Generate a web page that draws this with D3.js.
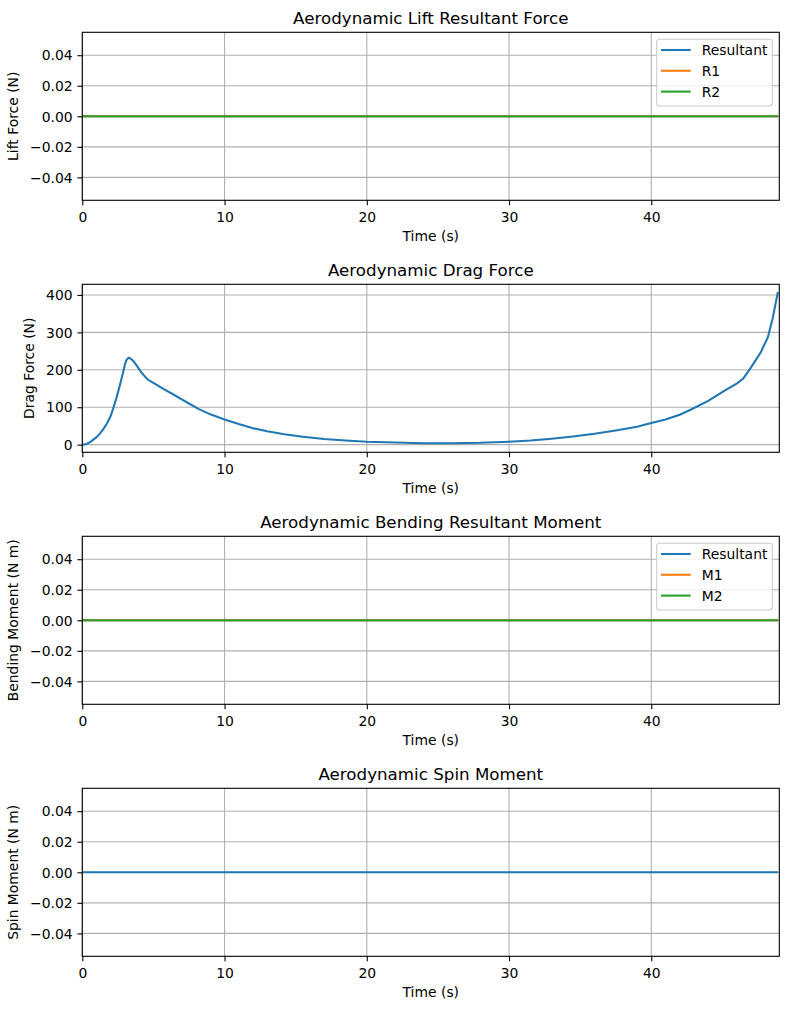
<!DOCTYPE html>
<html>
<head>
<meta charset="utf-8">
<script src="https://cdn.jsdelivr.net/npm/d3@7"></script>
<style>
  body { margin: 0; background: #fff; }
  svg { display: block; font-family: "DejaVu Sans", sans-serif; }
</style>
</head>
<body>
<script>
// time axis
var timeTicks = [0, 10, 20, 30, 40];
var timeMax = 49.0;

// drag force
var dragTime = [0, 0.3, 0.6, 1.0, 1.25, 1.5, 1.75, 2.0, 2.2, 2.4, 2.65, 2.85, 3.0, 3.1, 3.25, 3.4, 3.6, 3.85, 4.1, 4.4, 4.6, 5.0, 5.7, 6.5, 6.9, 7.5, 8.2, 9.0, 10.0, 11.0, 12.0, 13.0, 14.2, 15.5, 17.0, 18.5, 20.0, 22.0, 24.0, 26.0, 28.0, 30.0, 31.5, 33.0, 34.5, 36.0, 37.5, 39.0, 40.0, 41.0, 42.0, 42.8, 44.0, 45.1, 46.0, 46.45, 47.0, 47.7, 48.2, 48.55, 48.9];
var dragForce = [0, 2, 8, 20, 30, 43, 58, 77, 100, 125, 160, 190, 215, 226, 232, 230, 223, 210, 196, 182, 174, 165, 149, 132, 123, 110, 95, 81, 67, 55, 44, 36, 28, 21, 15, 11, 8, 6, 4, 4, 5, 8, 11, 16, 22, 29, 38, 48, 58, 67, 80, 94, 117, 143, 163, 176, 206, 247, 287, 340, 408];
var dragTicks = [0, 100, 200, 300, 400];

// the other components are flat at zero
var flatTime = [0, 10, 20, 30, 40, 48.9];
var liftResultant = [0, 0, 0, 0, 0, 0];
var liftR1 = [0, 0, 0, 0, 0, 0];
var liftR2 = [0, 0, 0, 0, 0, 0];
var bendResultant = [0, 0, 0, 0, 0, 0];
var bendM1 = [0, 0, 0, 0, 0, 0];
var bendM2 = [0, 0, 0, 0, 0, 0];
var spinMoment = [0, 0, 0, 0, 0, 0];
var flatTicks = [-0.04, -0.02, 0, 0.02, 0.04];

var colors = ['#1f77b4', '#ff7f0e', '#2ca02c'];

var width = 789,
    height = 1009,
    left = 82.3,
    plotW = 697,
    plotH = 168;

var svg = d3.select('body').append('svg')
    .attr('width', width)
    .attr('height', height);

var panels = [
  {top: 32.3, title: 'Aerodynamic Lift Resultant Force', ylabel: 'Lift Force (N)',
   series: [{t: flatTime, v: liftResultant, name: 'Resultant'}, {t: flatTime, v: liftR1, name: 'R1'}, {t: flatTime, v: liftR2, name: 'R2'}],
   ticks: flatTicks, fmt: '.2f', legend: true},
  {top: 284.3, title: 'Aerodynamic Drag Force', ylabel: 'Drag Force (N)',
   series: [{t: dragTime, v: dragForce}], ticks: dragTicks, fmt: 'd', legend: false},
  {top: 536.3, title: 'Aerodynamic Bending Resultant Moment', ylabel: 'Bending Moment (N m)',
   series: [{t: flatTime, v: bendResultant, name: 'Resultant'}, {t: flatTime, v: bendM1, name: 'M1'}, {t: flatTime, v: bendM2, name: 'M2'}],
   ticks: flatTicks, fmt: '.2f', legend: true},
  {top: 788.3, title: 'Aerodynamic Spin Moment', ylabel: 'Spin Moment (N m)',
   series: [{t: flatTime, v: spinMoment}], ticks: flatTicks, fmt: '.2f', legend: false}
];

var xScale = d3.scaleLinear().domain([0, timeMax]).range([0, plotW]);

panels.forEach(function(p) {
  var g = svg.append('g').attr('transform', `translate(${left}, ${p.top})`);

  // y domain like matplotlib autoscale (5% margins, flat -> +/-0.055)
  var all = d3.merge(p.series.map(s => s.v));
  var lo = d3.min(all), hi = d3.max(all);
  var domain;
  if (hi - lo === 0) domain = [lo - 0.055, hi + 0.055];
  else domain = [lo - 0.05 * (hi - lo), hi + 0.05 * (hi - lo)];
  var yScale = d3.scaleLinear().domain(domain).range([plotH, 0]);

  // grid
  g.append('g').selectAll('line').data(timeTicks).join('line')
      .attr('x1', d => xScale(d)).attr('x2', d => xScale(d))
      .attr('y1', 0).attr('y2', plotH)
      .attr('stroke', '#b0b0b0').attr('stroke-width', 1.1);
  g.append('g').selectAll('line').data(p.ticks).join('line')
      .attr('x1', 0).attr('x2', plotW)
      .attr('y1', d => yScale(d)).attr('y2', d => yScale(d))
      .attr('stroke', '#b0b0b0').attr('stroke-width', 1.1);

  // lines
  var clip = 'clip' + Math.round(p.top);
  g.append('clipPath').attr('id', clip).append('rect')
      .attr('width', plotW).attr('height', plotH);
  p.series.forEach(function(s, i) {
    var line = d3.line()
        .x((d, j) => xScale(s.t[j]))
        .y(d => yScale(d));
    g.append('path')
        .attr('d', line(s.v))
        .attr('fill', 'none')
        .attr('stroke', colors[i])
        .attr('stroke-width', 2.08)
        .attr('clip-path', `url(#${clip})`);
  });

  // axes
  var xAxis = g.append('g')
      .attr('transform', `translate(0, ${plotH})`)
      .call(d3.axisBottom(xScale).tickValues(timeTicks).tickSize(4.86).tickPadding(4.86));
  xAxis.selectAll('text').attr('y', 21.5).attr('dy', null);

  var yAxis = g.append('g')
      .call(d3.axisLeft(yScale).tickValues(p.ticks).tickFormat(d3.format(p.fmt)).tickSize(4.86).tickPadding(4.86));
  yAxis.selectAll('text').attr('dy', '0.34em');

  [xAxis, yAxis].forEach(function(a) {
    a.select('.domain').remove();
    a.attr('font-size', 13.9).attr('font-family', '"DejaVu Sans", sans-serif');
    a.selectAll('line').attr('stroke', '#000').attr('stroke-width', 1.1);
    a.selectAll('text').attr('fill', '#000');
  });

  // spines
  g.append('rect')
      .attr('width', plotW).attr('height', plotH)
      .attr('fill', 'none').attr('stroke', '#000').attr('stroke-width', 1.1);

  // title and labels
  g.append('text')
      .attr('x', plotW / 2).attr('y', -8)
      .attr('text-anchor', 'middle')
      .attr('font-size', 16.7)
      .text(p.title);

  g.append('text')
      .attr('x', plotW / 2).attr('y', plotH + 40.7)
      .attr('text-anchor', 'middle')
      .attr('font-size', 13.9)
      .text('Time (s)');

  var tickW = d3.max(yAxis.selectAll('text').nodes(), n => n.getComputedTextLength());
  var lx = -9.7 - tickW - 12.5;
  g.append('text')
      .attr('transform', `translate(${lx}, ${plotH / 2}) rotate(-90)`)
      .attr('text-anchor', 'middle')
      .attr('font-size', 13.9)
      .text(p.ylabel);

  // legend
  if (p.legend) {
    var lg = g.append('g').attr('transform', `translate(${plotW - 122.6}, 7)`);
    lg.append('rect')
        .attr('width', 115.6).attr('height', 66.7)
        .attr('rx', 3).attr('ry', 3)
        .attr('fill', 'rgba(255,255,255,0.8)')
        .attr('stroke', '#cccccc').attr('stroke-width', 1.1);
    p.series.forEach(function(s, i) {
      var yy = 10.7 + i * 20.8;
      lg.append('line')
          .attr('x1', 4.3).attr('x2', 34)
          .attr('y1', yy).attr('y2', yy)
          .attr('stroke', colors[i]).attr('stroke-width', 2.08);
      lg.append('text')
          .attr('x', 45).attr('y', yy).attr('dy', '0.36em')
          .attr('font-size', 13.9)
          .text(s.name);
    });
  }
});
</script>
</body>
</html>
